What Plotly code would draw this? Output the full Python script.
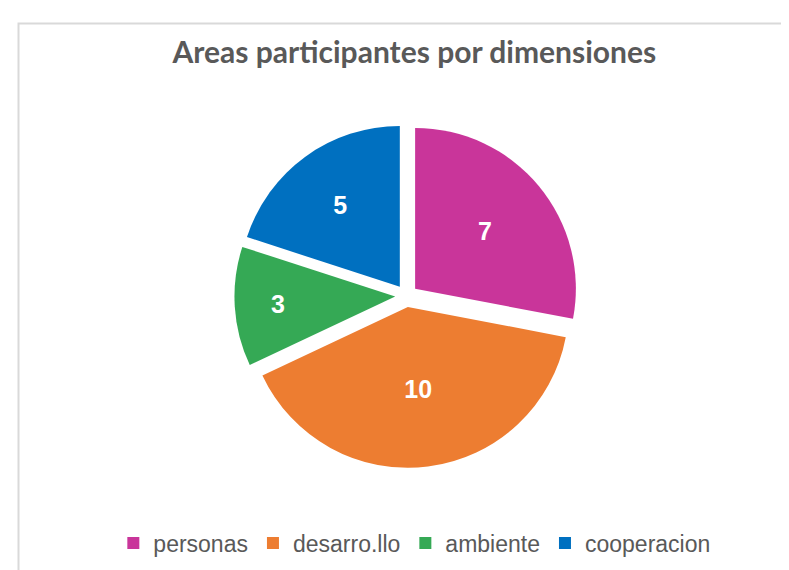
import plotly.graph_objects as go

labels = ['personas', 'desarro.llo', 'ambiente', 'cooperacion']
values = [7, 10, 3, 5]
colors = ['#C9359A', '#ED7D31', '#35A955', '#0070C0']

W, H = 789, 570

fig = go.Figure(go.Pie(
    labels=labels,
    values=values,
    sort=False,
    direction='clockwise',
    rotation=0,
    pull=[0.07] * 4,
    marker=dict(colors=colors, line=dict(width=0)),
    textinfo='value',
    textposition='inside',
    insidetextorientation='horizontal',
    textfont=dict(family='Liberation Sans, Arial', size=25, color='white', weight='bold'),
    domain=dict(x=[0.287, 0.723], y=[0.193, 0.797]),
    hoverinfo='label+value',
))

fig.update_layout(
    width=W, height=H,
    margin=dict(l=0, r=0, t=0, b=0),
    paper_bgcolor='white',
    title=dict(
        text='<b>Areas participantes por dimensiones</b>',
        x=0.515, xanchor='center', y=1 - 44 / H, yanchor='middle',
        font=dict(family='Lato, Open Sans', size=30, color='#595959'),
    ),
    legend=dict(
        orientation='h', x=0.515, xanchor='center', y=1 - 535 / H, yanchor='middle',
        font=dict(family='Liberation Sans, Arial', size=23, color='#595959'),
        itemwidth=30, traceorder='normal',
    ),
    shapes=[dict(
        type='rect', xref='paper', yref='paper',
        x0=10.5 / W, x1=1.02, y0=-0.02, y1=1 - 15.5 / H,
        line=dict(color='#D9D9D9', width=2),
    )],
)

fig.write_html('out.html')
